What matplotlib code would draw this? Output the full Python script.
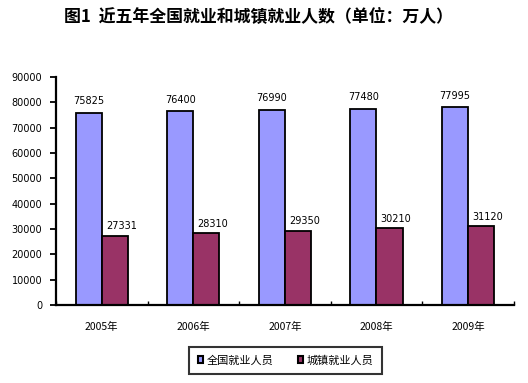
import matplotlib
matplotlib.use("Agg")
import matplotlib.pyplot as plt
import numpy as np
from matplotlib.patches import Patch

plt.rcParams['font.family'] = ['Noto Sans CJK SC', 'DejaVu Sans']

years = ['2005年', '2006年', '2007年', '2008年', '2009年']
total = [75825, 76400, 76990, 77480, 77995]
urban = [27331, 28310, 29350, 30210, 31120]
series_names = ['全国就业人员', '城镇就业人员']
title = '图1  近五年全国就业和城镇就业人数（单位：万人）'

fig = plt.figure(figsize=(5.28, 3.83), dpi=100)
ax = fig.add_axes([0.106, 0.204, 0.867, 0.595])

x = np.arange(len(years))
w = 0.285
c1, c2 = '#9999FF', '#993366'
ax.bar(x - w/2, total, w, color=c1, edgecolor='black', linewidth=1.3)
ax.bar(x + w/2, urban, w, color=c2, edgecolor='black', linewidth=1.3)
for xi, v in zip(x - w/2, total):
    ax.text(xi, v + 2600, str(v), ha='center', va='bottom', fontsize=7, family='DejaVu Sans')
for xi, v in zip(x + w/2 + 0.07, urban):
    ax.text(xi, v + 1700, str(v), ha='center', va='bottom', fontsize=7, family='DejaVu Sans')

ax.set_xlim(-0.5, 4.5)
ax.set_ylim(0, 90000)
ax.set_yticks(range(0, 90001, 10000))
ax.set_yticklabels([str(v) for v in range(0, 90001, 10000)], fontsize=7, family='DejaVu Sans')
ax.set_xticks(x)
ax.set_xticklabels(years, fontsize=7.5)
ax.tick_params(axis='x', length=0, pad=12)
ax.tick_params(axis='y', length=4, width=1.3, direction='out', pad=6)
ax.set_xticks(np.arange(-0.5, 4.6, 1), minor=True)
ax.tick_params(axis='x', which='minor', length=3, direction='in', width=1)
for s in ['top', 'right']:
    ax.spines[s].set_visible(False)
for s in ['left', 'bottom']:
    ax.spines[s].set_linewidth(1.6)

fig.text(0.49, 0.955, title, ha='center', va='center', fontsize=12.2, fontweight='bold')

handles = [Patch(facecolor=c1, edgecolor='black', linewidth=1.5),
           Patch(facecolor=c2, edgecolor='black', linewidth=1.5)]
leg = fig.legend(handles, series_names, loc='center', bbox_to_anchor=(0.541, 0.059), ncol=2,
                 fontsize=8, frameon=True, fancybox=False, handlelength=0.5, handleheight=0.5,
                 handletextpad=0.3, columnspacing=2.2, borderpad=0.75, borderaxespad=0)
leg.get_frame().set_edgecolor('black')
leg.get_frame().set_linewidth(1.5)

fig.savefig('out.png', dpi=100)
